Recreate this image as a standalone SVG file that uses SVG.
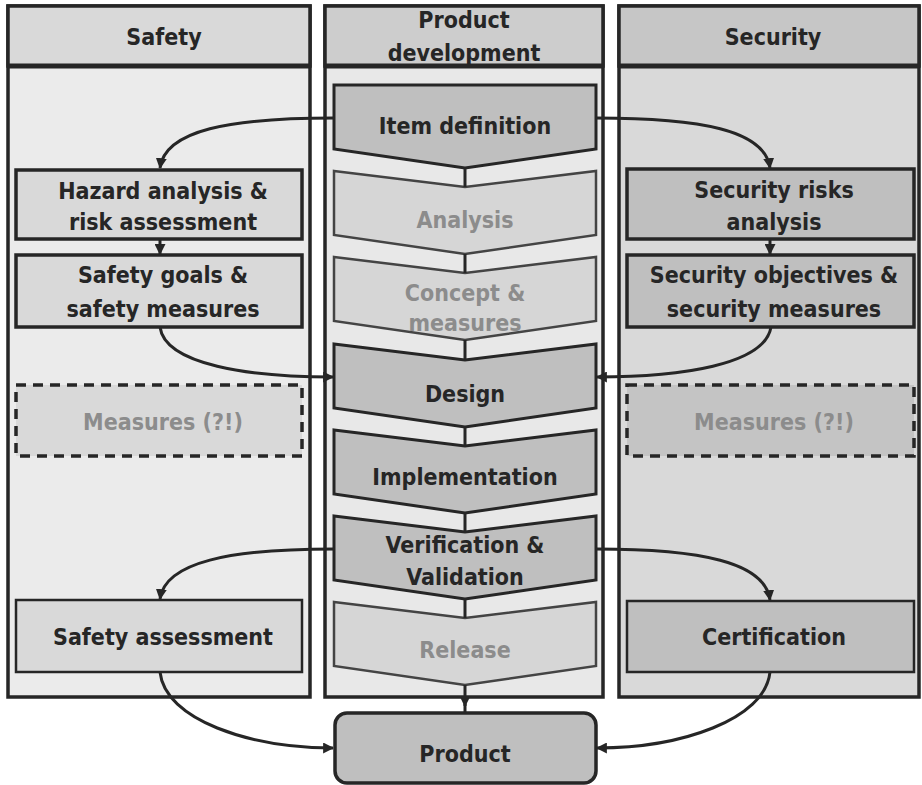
<svg xmlns="http://www.w3.org/2000/svg" width="922" height="785" viewBox="0 0 922 785">
<defs>
<marker id="arr" viewBox="0 0 10 10" refX="9" refY="5" markerWidth="11" markerHeight="11" markerUnits="userSpaceOnUse" orient="auto"><path d="M0,0 L10,5 L0,10 z" fill="#262626"/></marker>
<style>
text {font-family: "DejaVu Sans Condensed","DejaVu Sans",sans-serif; font-stretch: condensed; font-weight: bold; font-size: 23px; text-anchor: middle; fill:#262626}
.g {fill:#8c8c8c}
.col {stroke:#262626; stroke-width:3.5}
.div {stroke:#262626; stroke-width:5}
.box {stroke:#262626; stroke-width:3.5}
.thin {stroke:#262626; stroke-width:2.5}
.dash {stroke:#262626; stroke-width:3.5; stroke-dasharray:10 7}
.chev {stroke:#262626; stroke-width:3; fill:#bfbfbf}
.chevl {stroke:#444; stroke-width:2.5; fill:#d6d6d6}
.conn path {fill:none; stroke:#262626; stroke-width:3}
</style>
</defs>
<rect width="922" height="785" fill="#ffffff"/>

<g id="col-safety">
<rect x="8" y="6" width="302" height="691" fill="#ebebeb" class="col"/>
<rect x="8" y="6" width="302" height="60" fill="#d9d9d9" class="col"/>
<line x1="8" y1="66" x2="310" y2="66" class="div"/>
<text x="164" y="45">Safety</text>
</g>
<g id="col-product">
<rect x="325" y="6" width="278" height="691" fill="#e8e8e8" class="col"/>
<rect x="325" y="6" width="278" height="60" fill="#cdcdcd" class="col"/>
<line x1="325" y1="66" x2="603" y2="66" class="div"/>
<text x="464" y="28">Product</text>
<text x="464" y="61">development</text>
</g>
<g id="col-security">
<rect x="619" y="6" width="300" height="691" fill="#d9d9d9" class="col"/>
<rect x="619" y="6" width="300" height="60" fill="#c6c6c6" class="col"/>
<line x1="619" y1="66" x2="919" y2="66" class="div"/>
<text x="773" y="45">Security</text>
</g>

<g id="item-definition">
<path class="chev" d="M334,85 L596,85 L596,149 L465,168 L334,149 Z"/>
<text x="465" y="134">Item definition</text>
</g>
<g id="analysis">
<path class="chevl" d="M334,171 L465,187 L596,171 L596,235 L465,254 L334,235 Z"/>
<text class="g" x="465" y="228">Analysis</text>
</g>
<g id="concept">
<path class="chevl" d="M334,257 L465,273 L596,257 L596,321 L465,340 L334,321 Z"/>
<text class="g" x="465" y="301">Concept &amp;</text>
<text class="g" x="465" y="331">measures</text>
</g>
<g id="design">
<path class="chev" d="M334,344 L465,360 L596,344 L596,408 L465,427 L334,408 Z"/>
<text x="465" y="402">Design</text>
</g>
<g id="implementation">
<path class="chev" d="M334,430 L465,446 L596,430 L596,494 L465,513 L334,494 Z"/>
<text x="465" y="485">Implementation</text>
</g>
<g id="verification">
<path class="chev" d="M334,516 L465,532 L596,516 L596,580 L465,599 L334,580 Z"/>
<text x="465" y="553">Verification &amp;</text>
<text x="465" y="585">Validation</text>
</g>
<g id="release">
<path class="chevl" d="M334,602 L465,618 L596,602 L596,666 L465,685 L334,666 Z"/>
<text class="g" x="465" y="658">Release</text>
</g>
<g id="product">
<rect x="335" y="713" width="261" height="70" rx="12" fill="#bfbfbf" class="box"/>
<text x="465" y="762">Product</text>
</g>

<g id="hazard">
<rect x="16" y="170" width="286" height="69" fill="#d9d9d9" class="box"/>
<text x="163" y="199">Hazard analysis &amp;</text>
<text x="163" y="230">risk assessment</text>
</g>
<g id="safety-goals">
<rect x="16" y="255" width="286" height="72" fill="#d9d9d9" class="box"/>
<text x="163" y="283">Safety goals &amp;</text>
<text x="163" y="317">safety measures</text>
</g>
<g id="safety-measures">
<rect x="16" y="385" width="286" height="71" fill="#d9d9d9" class="dash"/>
<text class="g" x="163" y="430">Measures (?!)</text>
</g>
<g id="safety-assessment">
<rect x="16" y="600" width="286" height="72" fill="#d9d9d9" class="thin"/>
<text x="163" y="645">Safety assessment</text>
</g>

<g id="security-risks">
<rect x="627" y="169" width="287" height="70" fill="#bfbfbf" class="box"/>
<text x="774" y="198">Security risks</text>
<text x="774" y="230">analysis</text>
</g>
<g id="security-objectives">
<rect x="627" y="255" width="287" height="72" fill="#bfbfbf" class="box"/>
<text x="774" y="283">Security objectives &amp;</text>
<text x="774" y="317">security measures</text>
</g>
<g id="security-measures">
<rect x="627" y="385" width="287" height="71" fill="#c4c4c4" class="dash"/>
<text class="g" x="774" y="430">Measures (?!)</text>
</g>
<g id="certification">
<rect x="627" y="601" width="287" height="71" fill="#bfbfbf" class="thin"/>
<text x="774" y="645">Certification</text>
</g>

<g id="connectors" class="conn">
<path d="M465,168 L465,187"/>
<path d="M465,254 L465,273"/>
<path d="M465,340 L465,360"/>
<path d="M465,427 L465,446"/>
<path d="M465,513 L465,532"/>
<path d="M465,599 L465,618"/>
<path d="M465,685 L465,706" marker-end="url(#arr)"/>
<path d="M465,704 L465,713"/>
<path d="M334,118 C230,118 165,130 160,168" marker-end="url(#arr)"/>
<path d="M596,118 C700,118 765,130 770,168" marker-end="url(#arr)"/>
<path d="M160,239 L160,254" marker-end="url(#arr)"/>
<path d="M770,239 L770,254" marker-end="url(#arr)"/>
<path d="M160,327 C165,365 250,377 333,377" marker-end="url(#arr)"/>
<path d="M771,327 C765,365 680,377 597,377" marker-end="url(#arr)"/>
<path d="M334,549 C230,549 165,562 160,599" marker-end="url(#arr)"/>
<path d="M596,549 C700,549 765,562 770,600" marker-end="url(#arr)"/>
<path d="M160,672 C165,720 250,748 333,748" marker-end="url(#arr)"/>
<path d="M770,672 C765,720 680,748 597,748" marker-end="url(#arr)"/>
</g>
</svg>
